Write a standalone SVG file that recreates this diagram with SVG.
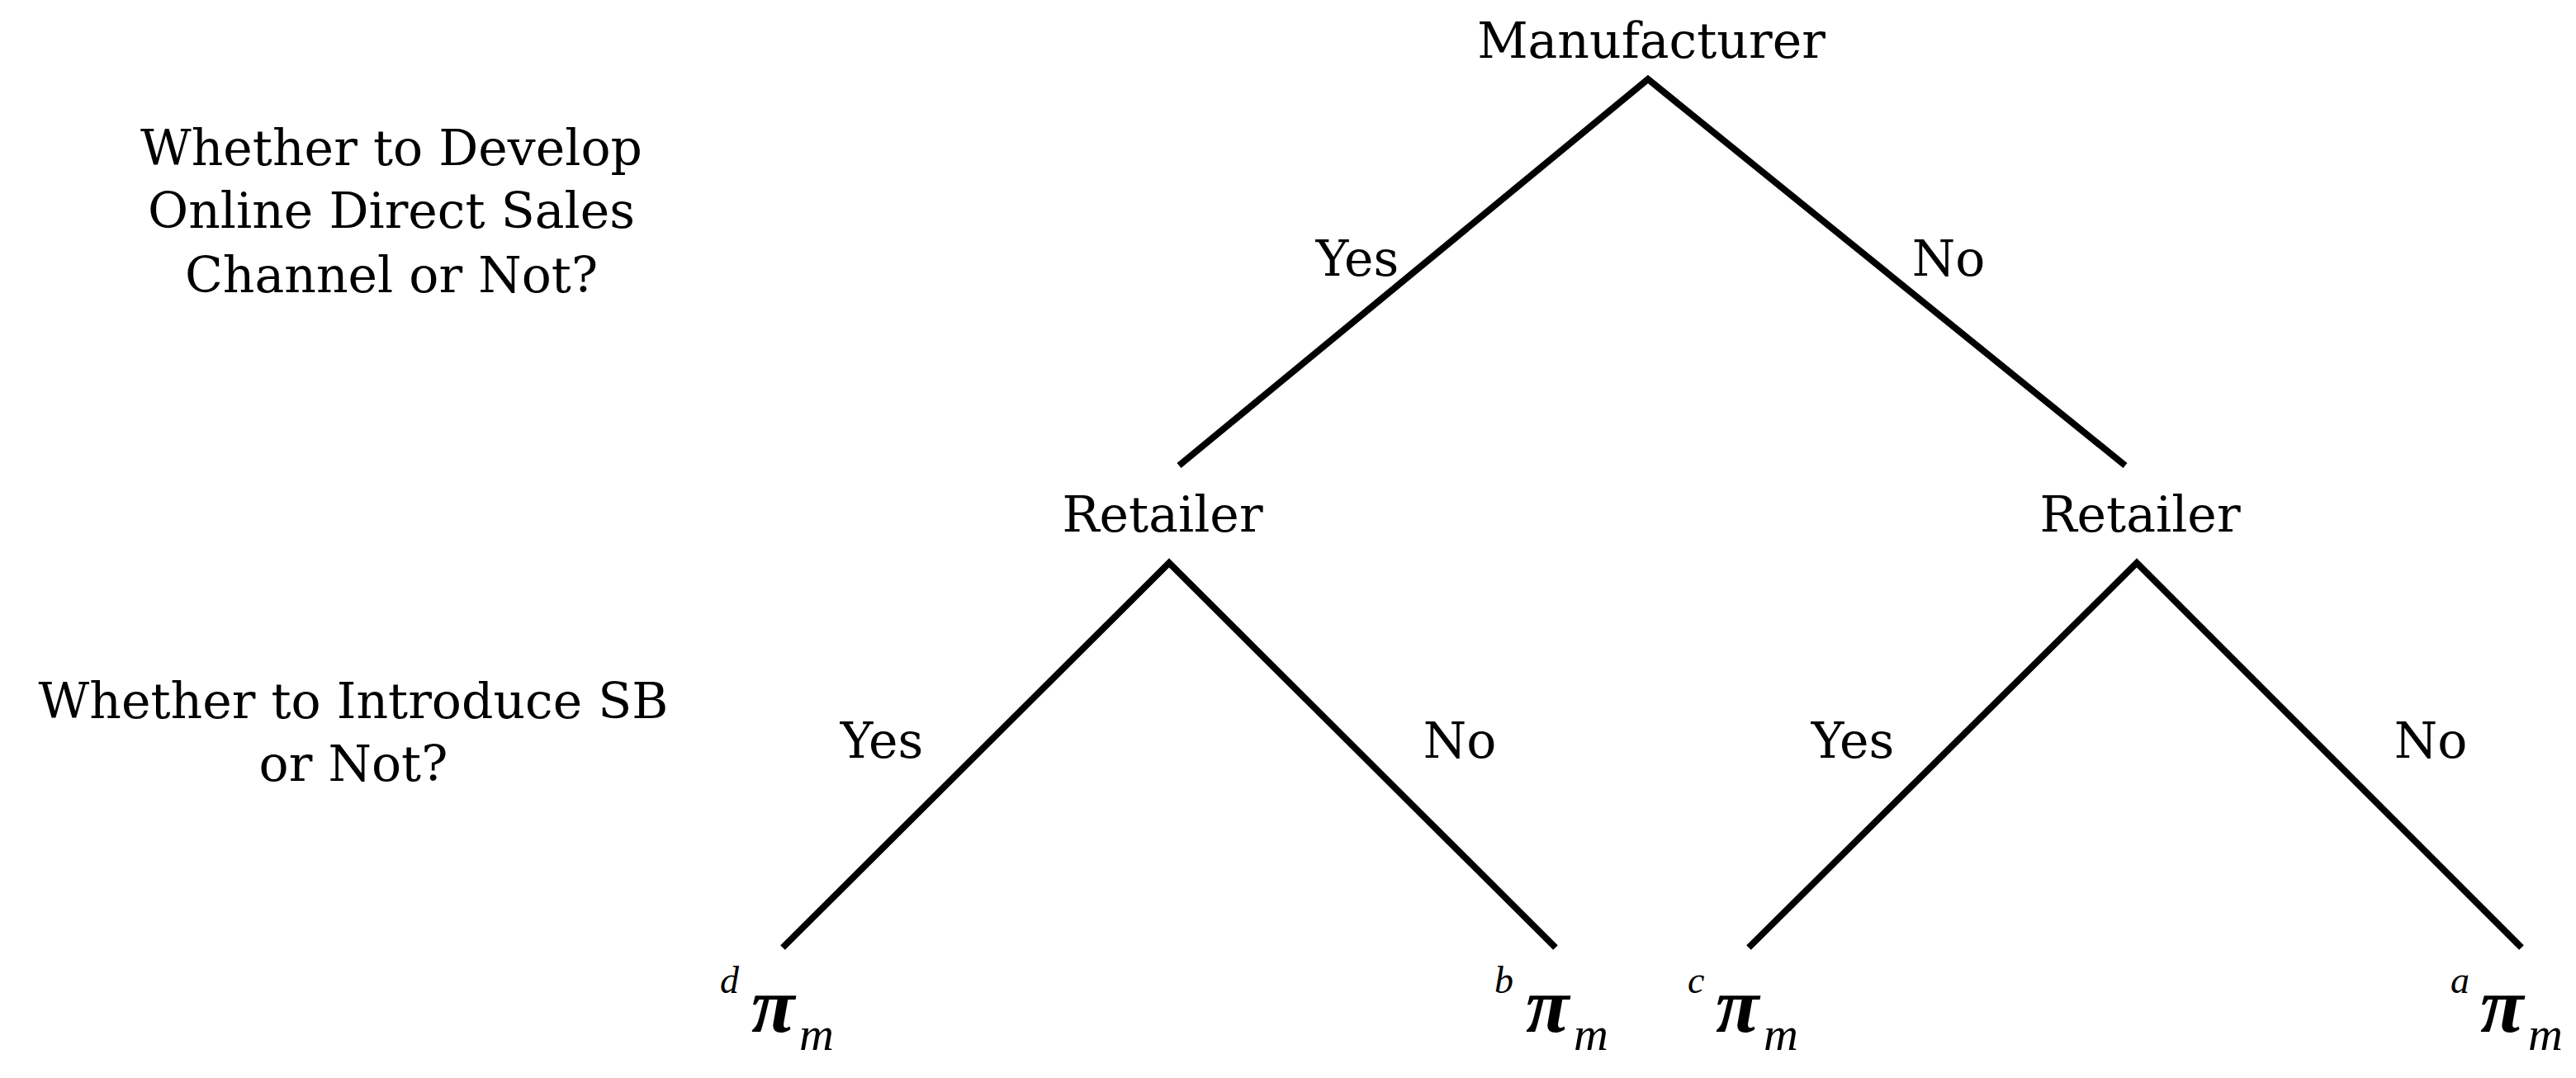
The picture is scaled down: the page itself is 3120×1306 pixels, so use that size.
<svg xmlns="http://www.w3.org/2000/svg" width="3120" height="1306" viewBox="0 0 3120 1306">
<style>
.t{font-family:"DejaVu Serif","Liberation Serif",serif;font-size:60px;fill:#000}
.c{text-anchor:middle}
.e{stroke:#000;stroke-width:8;fill:none;stroke-linecap:butt}
.sup{font-family:"Liberation Serif",serif;font-style:italic;font-size:46px}
.pi{font-family:"Liberation Serif",serif;font-style:italic;font-weight:bold;font-size:96px}
.sub{font-family:"Liberation Serif",serif;font-style:italic;font-size:58px}
</style>
<rect width="3120" height="1306" fill="#fff"/>
<g id="connectors">
<path class="e" d="M1428,564 L1996,96 L2574,564"/>
<path class="e" d="M948,1148 L1416,682 L1884,1148"/>
<path class="e" d="M2118,1148 L2588,682 L3054,1148"/>
</g>
<g id="q1"><text class="t c" x="474" y="200">Whether to Develop</text><text class="t c" x="474" y="276">Online Direct Sales</text><text class="t c" x="474" y="354">Channel or Not?</text></g>
<g id="q2"><text class="t c" x="428" y="870">Whether to Introduce SB</text><text class="t c" x="428" y="946">or Not?</text></g>
<g id="manufacturer"><text class="t c" x="2000" y="70">Manufacturer</text></g>
<g id="retailer1"><text class="t c" x="1408" y="644">Retailer</text></g>
<g id="retailer2"><text class="t c" x="2592" y="644">Retailer</text></g>
<g id="labels">
<text class="t c" x="1644" y="334">Yes</text><text class="t c" x="2360" y="334">No</text>
<text class="t c" x="1068" y="918">Yes</text><text class="t c" x="1768" y="918">No</text>
<text class="t c" x="2244" y="918">Yes</text><text class="t c" x="2944" y="918">No</text>
</g>
<g id="leaf-d"><text x="872" y="1203" class="sup">d</text><text x="910" y="1250" class="pi">π</text><text x="968" y="1272" class="sub">m</text></g>
<g id="leaf-b"><text x="1810" y="1203" class="sup">b</text><text x="1848" y="1250" class="pi">π</text><text x="1906" y="1272" class="sub">m</text></g>
<g id="leaf-c"><text x="2044" y="1203" class="sup">c</text><text x="2078" y="1250" class="pi">π</text><text x="2136" y="1272" class="sub">m</text></g>
<g id="leaf-a"><text x="2968" y="1203" class="sup">a</text><text x="3004" y="1250" class="pi">π</text><text x="3062" y="1272" class="sub">m</text></g>
</svg>
